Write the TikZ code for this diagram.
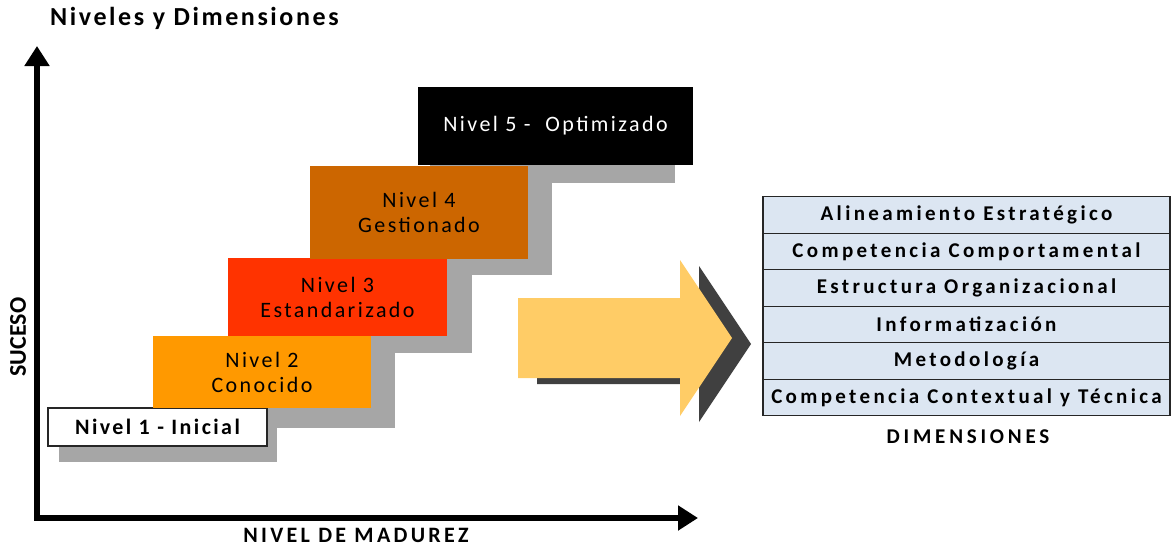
\documentclass[tikz,border=0pt]{standalone}
\usepackage{fontspec}
\setmainfont{Carlito}
\newfontfamily\lvlfont[LetterSpace=11]{Carlito}
\newfontfamily\dimfont[LetterSpace=16]{Carlito}
\newfontfamily\titlefont[LetterSpace=10]{Carlito}
\newfontfamily\axisfont[LetterSpace=15]{Carlito}
\newfontfamily\dimlblfont[LetterSpace=18]{Carlito}
\usetikzlibrary{arrows.meta}
\definecolor{shadowgray}{HTML}{A6A6A6}
\definecolor{lvltwo}{HTML}{FF9900}
\definecolor{lvlthree}{HTML}{FF3300}
\definecolor{lvlfour}{HTML}{CC6600}
\definecolor{arrowyellow}{HTML}{FFCC66}
\definecolor{arrowshadow}{HTML}{404040}
\definecolor{dimfill}{HTML}{DCE6F2}
\tikzset{
  lvlbox/.style={rectangle, inner sep=0pt, align=center, text=black,
    font=\lvlfont\fontsize{22}{25}\selectfont},
  dimrow/.style={rectangle, draw=black!85, line width=1.3pt, fill=dimfill,
    minimum width=407pt, minimum height=36.5pt, inner sep=0pt,
    font=\dimfont\bfseries\fontsize{21}{24}\selectfont},
  axis/.style={line width=6pt, line join=miter,
    {Triangle[length=20pt,width=24pt]}-{Triangle[length=20pt,width=24pt]}},
  lbl/.style={font=\axisfont\bfseries\fontsize{22}{24}\selectfont, inner sep=0pt}
}
\begin{document}
\begin{tikzpicture}[x=1pt,y=-1pt]
\useasboundingbox (0,0) rectangle (1171,546);
% title
\node[lbl, font=\titlefont\bfseries\fontsize{26}{28}\selectfont, anchor=west] (title) at (50,18) {Niveles y Dimensiones};
% axes
\coordinate (O) at (37,518);
\coordinate (ytop) at (37,46);
\coordinate (xend) at (698,518);
\draw[axis] (ytop) -- (O) -- (xend);
\node[lbl, rotate=90, font=\bfseries\fontsize{24}{26}\selectfont] (suceso) at (18,337) {SUCESO};
\node[lbl] (madurez) at (356,535) {NIVEL\ DE MADUREZ};
% staircase shadows
\fill[shadowgray] (59,420) rectangle (277,462);
\fill[shadowgray] (165,350) rectangle (395,428);
\fill[shadowgray] (240,275) rectangle (472,353);
\fill[shadowgray] (320,180) rectangle (552,275);
\fill[shadowgray] (430,100) rectangle (675,183);
% level boxes
\node[lvlbox, fill=white, draw=black!85, line width=1.3pt, minimum width=219pt, minimum height=38pt,
  font=\lvlfont\bfseries\fontsize{22}{25}\selectfont] (n1) at (157.5,427) {Nivel 1 - Inicial};
\node[lvlbox, fill=lvltwo, minimum width=218pt, minimum height=72pt] (n2) at (262,372) {Nivel 2\\Conocido};
\node[lvlbox, fill=lvlthree, minimum width=219pt, minimum height=78pt] (n3) at (337.5,297) {Nivel 3\\Estandarizado};
\node[lvlbox, fill=lvlfour, minimum width=218pt, minimum height=93pt] (n4) at (419,212) {Nivel 4\\Gestionado};
\node[lvlbox, fill=black, text=white, minimum width=275pt, minimum height=78pt] (n5) at (555.5,126) {Nivel 5 - \ Optimizado};
% big arrow
\fill[arrowshadow, shift={(19,6)}] (518,298) -- (680,298) -- (680,260) -- (732,338) -- (680,416) -- (680,378) -- (518,378) -- cycle;
\fill[arrowyellow] (518,298) -- (680,298) -- (680,260) -- (732,338) -- (680,416) -- (680,378) -- (518,378) -- cycle;
% dimensions table
\node[dimrow] (d1) at (966.5,215) {Alineamiento Estratégico};
\node[dimrow] (d2) at (966.5,251.5) {Competencia Comportamental};
\node[dimrow] (d3) at (966.5,288) {Estructura Organizacional};
\node[dimrow] (d4) at (966.5,324.5) {Informatización};
\node[dimrow] (d5) at (966.5,361) {Metodología};
\node[dimrow] (d6) at (966.5,397.5) {Competencia Contextual y Técnica};
\node[lbl, font=\dimlblfont\bfseries\fontsize{21}{24}\selectfont] (dims) at (968,437) {DIMENSIONES};
\end{tikzpicture}
\end{document}
